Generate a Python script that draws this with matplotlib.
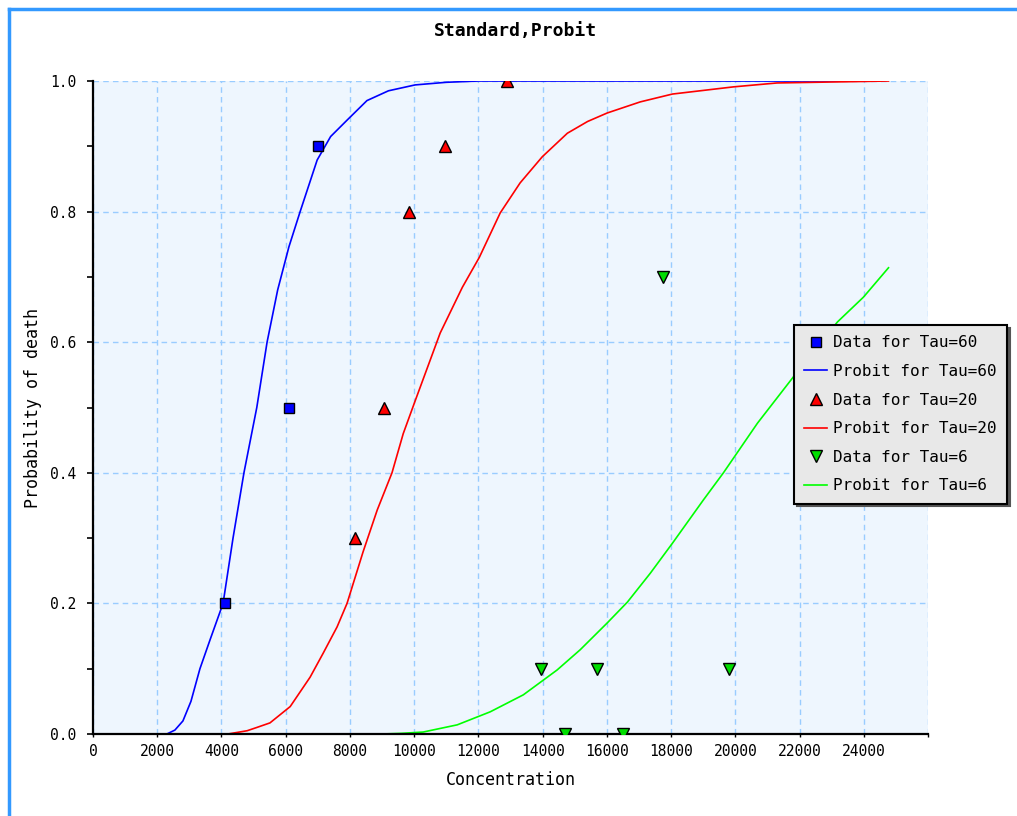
import matplotlib
matplotlib.use("Agg")
import matplotlib.pyplot as plt
from matplotlib.lines import Line2D

# data
tau60_x = [4100, 6100, 7000]
tau60_y = [0.2, 0.5, 0.9]
tau20_x = [8150, 9050, 9850, 10950, 12900]
tau20_y = [0.3, 0.5, 0.8, 0.9, 1.0]
tau6_x = [13950, 14700, 15700, 16500, 17750, 19800]
tau6_y = [0.1, 0.0, 0.1, 0.0, 0.7, 0.1]

probit60_x = [2300, 2550, 2800, 3050, 3330, 3650, 4050, 4360, 4700, 5100, 5420,
              5750, 6100, 6450, 6980, 7400, 7910, 8530, 9200, 10030, 11000,
              12000, 23520]
probit60_y = [0.0, 0.006, 0.02, 0.05, 0.10, 0.145, 0.20, 0.30, 0.40, 0.50, 0.60,
              0.68, 0.746, 0.80, 0.879, 0.915, 0.94, 0.97, 0.985, 0.994, 0.998,
              1.0, 1.0]
probit20_x = [4200, 4800, 5100, 5510, 6140, 6760, 7170, 7600, 7910, 8410, 8850,
              9310, 9660, 10030, 10810, 11500, 12030, 12680, 13300, 13990, 14770,
              15400, 16010, 17040, 18040, 19940, 21300, 24770]
probit20_y = [0.0, 0.005, 0.01, 0.017, 0.042, 0.087, 0.124, 0.164, 0.20, 0.279,
              0.343, 0.40, 0.46, 0.51, 0.614, 0.684, 0.73, 0.798, 0.844, 0.884,
              0.92, 0.938, 0.951, 0.968, 0.98, 0.991, 0.997, 1.0]
probit6_x = [0, 9000, 9600, 10280, 11340, 12370, 13400, 14450, 15170, 16010, 16640,
             17350, 18040, 19000, 19630, 20690, 21810, 23180, 23990, 24770]
probit6_y = [0.0, 0.0, 0.001, 0.003, 0.014, 0.034, 0.06, 0.098, 0.129, 0.17, 0.202,
             0.246, 0.292, 0.358, 0.40, 0.476, 0.547, 0.631, 0.669, 0.714]

x_ticks = list(range(0, 26001, 2000))
y_ticks = [0.0, 0.2, 0.4, 0.6, 0.8, 1.0]

mono = "DejaVu Sans Mono"

fig = plt.figure(figsize=(10.17, 8.16), dpi=100)
ax = fig.add_axes([93 / 1017, 1 - 734 / 816, (928 - 93) / 1017, (734 - 81) / 816])
ax.set_facecolor("#eef6fe")

ax.plot(tau60_x, tau60_y, ls="none", marker="s", ms=7.5, mfc="#0000ff", mec="black",
        mew=1, label="Data for Tau=60", zorder=5)
ax.plot(probit60_x, probit60_y, color="#0000ff", lw=1.2, label="Probit for Tau=60")
ax.plot(tau20_x, tau20_y, ls="none", marker="^", ms=8, mfc="#ff0000", mec="black",
        mew=1, label="Data for Tau=20", zorder=5)
ax.plot(probit20_x, probit20_y, color="#ff0000", lw=1.2, label="Probit for Tau=20")
ax.plot(tau6_x, tau6_y, ls="none", marker="v", ms=8, mfc="#00dd00", mec="black",
        mew=1, label="Data for Tau=6", zorder=5)
ax.plot(probit6_x, probit6_y, color="#00ff00", lw=1.2, label="Probit for Tau=6")

ax.set_xlim(0, 26000)
ax.set_ylim(0, 1.0)
ax.set_xticks(x_ticks)
ax.set_xticklabels([str(v) for v in x_ticks[:-1]] + [""], fontfamily=mono, fontsize=10.5)
ax.set_yticks(y_ticks)
ax.set_yticklabels(["%.1f" % v for v in y_ticks], fontfamily=mono, fontsize=10.5)
ax.set_yticks([0.1, 0.3, 0.5, 0.7, 0.9], minor=True)
ax.tick_params(axis="y", which="both", length=4, width=1.2, direction="out", pad=8)
ax.tick_params(axis="x", length=2, width=1, pad=5)
ax.grid(True, color="#99ccff", ls=(0, (4, 3)), lw=1)
ax.set_axisbelow(True)

for s in ["top", "right"]:
    ax.spines[s].set_visible(False)
for s in ["left", "bottom"]:
    ax.spines[s].set_linewidth(1.6)

ax.set_xlabel("Concentration", fontfamily=mono, fontsize=12, labelpad=9)
ax.set_ylabel("Probability of death", fontfamily=mono, fontsize=12, labelpad=6)
fig.text(0.507, 0.962, "Standard,Probit", ha="center", va="center",
         fontfamily=mono, fontsize=13, fontweight="bold")

leg = ax.legend(loc="upper left", bbox_to_anchor=(794 / 1017, 1 - 325 / 816),
                bbox_transform=fig.transFigure, prop={"family": mono, "size": 11.5},
                facecolor="#e8e8e8", edgecolor="black", framealpha=1, fancybox=False,
                shadow={"color": "#555555", "alpha": 1}, borderaxespad=0,
                handlelength=1.4, handletextpad=0.4, labelspacing=0.85,
                borderpad=0.65)
leg.get_frame().set_linewidth(1.5)

# outer frame of the chart panel
fig.add_artist(Line2D([9 / 1017, 9 / 1017], [0, 1 - 9 / 816], color="#3399ff", lw=2.5))
fig.add_artist(Line2D([9 / 1017, 1], [1 - 9 / 816, 1 - 9 / 816], color="#3399ff", lw=2.5))

fig.savefig("out.png", dpi=100)
